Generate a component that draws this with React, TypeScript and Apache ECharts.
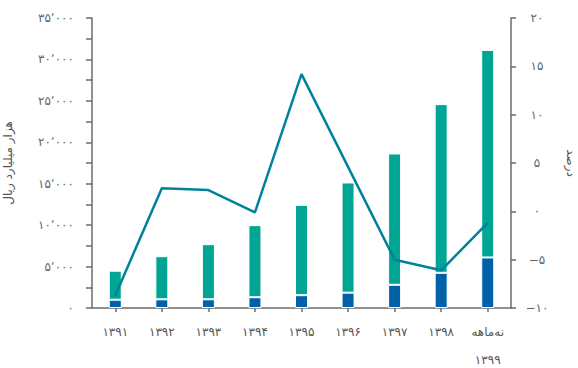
import React, { useEffect, useRef } from "react";
import * as echarts from "echarts";

// Fiscal years (Persian calendar); the last one covers nine months only
const categories = [
  "۱۳۹۱",
  "۱۳۹۲",
  "۱۳۹۳",
  "۱۳۹۴",
  "۱۳۹۵",
  "۱۳۹۶",
  "۱۳۹۷",
  "۱۳۹۸",
  "نه‌ماهه\n۱۳۹۹",
];

// Lower (dark blue) segment, thousand billion rials
const lowerSegment = [1000, 1050, 1050, 1300, 1550, 1850, 2800, 4250, 6100];
// Upper (teal) segment, thousand billion rials
const upperSegment = [3500, 5200, 6650, 8700, 10900, 13300, 15850, 20350, 25050];
// Growth rate, percent (right axis)
const growthRate = [-8.7, 2.4, 2.2, -0.1, 14.2, 4.6, -5.0, -6.1, -1.2];

const leftAxisTitle = "هزار میلیارد ریال";
const rightAxisTitle = "درصد";

const FONT = "'DejaVu Sans', 'Noto Sans', sans-serif";

const toPersianDigits = (s: string) =>
  s.replace(/\d/g, (d) => "۰۱۲۳۴۵۶۷۸۹"[Number(d)]);

const formatThousands = (v: number) => {
  const str = Math.abs(v).toString().replace(/\B(?=(\d{3})+(?!\d))/g, "٬");
  return (v < 0 ? "−" : "") + toPersianDigits(str);
};

const formatSigned = (v: number) =>
  (v < 0 ? "−" : "") + toPersianDigits(Math.abs(v).toString());

export default function App() {
  const ref = useRef<HTMLDivElement>(null);

  useEffect(() => {
    if (!ref.current) return;
    const chart = echarts.init(ref.current, null, { renderer: "svg" });
    const axisLine = { show: true, lineStyle: { color: "#6b6b6b", width: 1.5 } };
    chart.setOption({
      animation: false,
      backgroundColor: "#ffffff",
      grid: {
        left: 92,
        right: 67,
        top: 18,
        bottom: 60,
        containLabel: false,
        outerBoundsMode: "none",
      },
      xAxis: {
        type: "category",
        data: categories,
        axisLine,
        axisTick: {
          show: true,
          alignWithLabel: true,
          length: 4,
          lineStyle: { color: "#6b6b6b", width: 1.5 },
        },
        axisLabel: {
          interval: 0,
          margin: 10,
          color: "#555",
          fontSize: 12,
          fontFamily: FONT,
          lineHeight: 28,
        },
      },
      yAxis: [
        {
          type: "value",
          min: 0,
          max: 35000,
          interval: 5000,
          position: "left",
          name: leftAxisTitle,
          nameLocation: "middle",
          nameRotate: 90,
          nameGap: 78,
          nameTextStyle: { color: "#555", fontSize: 12, fontFamily: FONT },
          axisLine,
          axisTick: { show: true, length: 6, lineStyle: { color: "#6b6b6b", width: 1.5 } },
          minorTick: { show: true, splitNumber: 2, length: 6, lineStyle: { color: "#6b6b6b", width: 1.5 } },
          splitLine: { show: false },
          axisLabel: {
            margin: 18,
            color: "#666",
            fontSize: 12,
            fontFamily: FONT,
            formatter: (v: number) => formatThousands(v),
          },
        },
        {
          type: "value",
          min: -10,
          max: 20,
          interval: 5,
          position: "right",
          name: rightAxisTitle,
          nameLocation: "middle",
          nameRotate: -90,
          nameGap: 54,
          nameTextStyle: { color: "#555", fontSize: 12, fontFamily: FONT },
          axisLine,
          axisTick: { show: true, length: 5, lineStyle: { color: "#6b6b6b", width: 1.5 } },
          splitLine: { show: false },
          axisLabel: {
            margin: 26,
            align: "center",
            color: "#666",
            fontSize: 12,
            fontFamily: FONT,
            formatter: (v: number) => formatSigned(v),
          },
        },
      ],
      series: [
        {
          name: "lower",
          type: "bar",
          stack: "total",
          yAxisIndex: 0,
          barWidth: 13,
          data: lowerSegment,
          itemStyle: { color: "#0060a8", borderColor: "#ffffff", borderWidth: 1 },
        },
        {
          name: "upper",
          type: "bar",
          stack: "total",
          yAxisIndex: 0,
          barWidth: 13,
          data: upperSegment,
          itemStyle: { color: "#00a693", borderColor: "#ffffff", borderWidth: 1 },
        },
        {
          name: "growth",
          type: "line",
          yAxisIndex: 1,
          data: growthRate,
          showSymbol: false,
          symbol: "none",
          z: 5,
          lineStyle: { color: "#00829c", width: 2.5 },
        },
      ],
    });
    return () => chart.dispose();
  }, []);

  return (
    <div
      ref={ref}
      style={{ position: "fixed", left: 0, top: 0, width: 578, height: 368, background: "#fff" }}
    />
  );
}
